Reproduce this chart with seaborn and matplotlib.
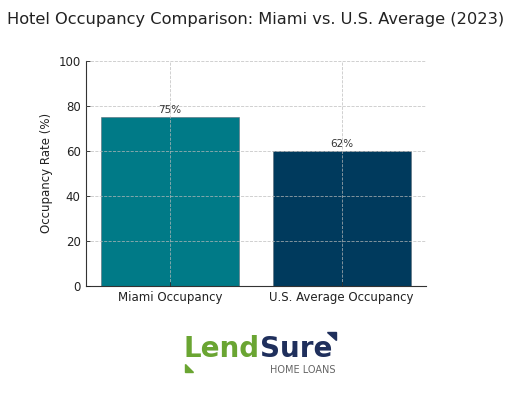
import matplotlib
matplotlib.use("Agg")
import matplotlib.pyplot as plt
import seaborn as sns
from matplotlib.patches import Polygon

# Chart data
categories = ["Miami Occupancy", "U.S. Average Occupancy"]
values = [75, 60]
value_labels = ["75%", "62%"]
colors = ["#007a87", "#003a5d"]

sns.set_style("white")
plt.rcParams["font.family"] = ["DejaVu Sans"]

fig = plt.figure(figsize=(5.12, 3.95), dpi=100)
ax = fig.add_axes([0.167, 0.276, 0.665, 0.570])

sns.barplot(x=categories, y=values, hue=categories, palette=colors,
            legend=False, saturation=1, width=0.8, ax=ax,
            edgecolor="#5a6a78", linewidth=0.4)

# value labels above bars
for i, (v, lab) in enumerate(zip(values, value_labels)):
    ax.text(i, v + 1, lab, ha="center", va="bottom", fontsize=7.5, color="#333333")

ax.set_xlim(-0.49, 1.49)
ax.set_ylim(0, 100)
ax.set_yticks([0, 20, 40, 60, 80, 100])
ax.set_ylabel("Occupancy Rate (%)", fontsize=8.5, color="#222222")
ax.set_xlabel("")
ax.tick_params(axis="both", direction="in", labelsize=8.5, colors="#222222",
               length=3, width=0.6, left=True, bottom=True)
ax.grid(True, linestyle="--", linewidth=0.6, color="#bbbbbb", alpha=0.8)
ax.set_axisbelow(False)
sns.despine(ax=ax)
for s in ["left", "bottom"]:
    ax.spines[s].set_color("#333333")
    ax.spines[s].set_linewidth(0.8)

fig.text(0.5, 0.95, "Hotel Occupancy Comparison: Miami vs. U.S. Average (2023)",
         ha="center", va="center", fontsize=11.7, color="#222222")

# logo
W, H = 512, 395
lend = fig.text(184 / W, 1 - 357 / H, "Lend", fontsize=20, fontweight="bold",
                color="#6aa532", ha="left", va="baseline")
fig.canvas.draw()
bb = lend.get_window_extent(renderer=fig.canvas.get_renderer())
fig.text(bb.x1 / W, 1 - 357 / H, "Sure", fontsize=20, fontweight="bold",
         color="#1f2f5c", ha="left", va="baseline")
fig.text(336 / W, 1 - 373 / H, "HOME LOANS", fontsize=7, color="#666666",
         ha="right", va="baseline")
fig.patches.append(Polygon([(185 / W, 1 - 364 / H), (185 / W, 1 - 372 / H), (193 / W, 1 - 372 / H)],
                           closed=True, color="#6aa532", transform=fig.transFigure, figure=fig))
fig.patches.append(Polygon([(327 / W, 1 - 332 / H), (336 / W, 1 - 332 / H), (336 / W, 1 - 340 / H)],
                           closed=True, color="#1f2f5c", transform=fig.transFigure, figure=fig))

fig.savefig("out.png", dpi=100)
